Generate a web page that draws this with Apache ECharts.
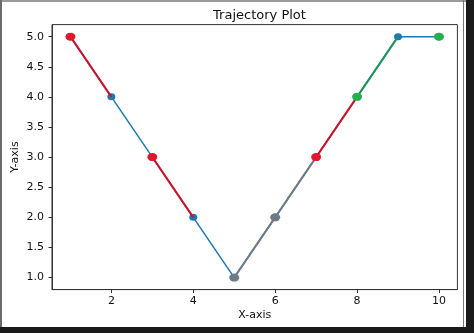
<!DOCTYPE html>
<html>
<head>
<meta charset="utf-8">
<script src="https://cdn.jsdelivr.net/npm/echarts@6/dist/echarts.min.js"></script>
<style>
  html, body { margin: 0; padding: 0; background: #fff; }
  #chart { width: 474px; height: 333px; position: absolute; left: 0; top: 0; }
  .fr { position: absolute; pointer-events: none; }
</style>
</head>
<body>
<div id="chart"></div>
<div class="fr" style="left:0;top:0;width:474px;height:2px;background:#9a9a9a"></div>
<div class="fr" style="left:0;top:0;width:2px;height:333px;background:#6a6a6a"></div>
<div class="fr" style="left:463px;top:0;width:1px;height:333px;background:#777"></div>
<div class="fr" style="left:466px;top:0;width:8px;height:333px;background:#1a1a1a"></div>
<div class="fr" style="left:0;top:327px;width:474px;height:6px;background:#1a1a1a"></div>
<script>
// Data
const xValues = [1, 2, 3, 4, 5, 6, 7, 8, 9, 10];
const yValues = [5, 4, 3, 2, 1, 2, 3, 4, 5, 5];
// highlight state of each point (colours the marker and the segment that starts there)
const pointStates = ['red', null, 'red', null, 'grey', 'grey', 'red', 'green', null, 'green'];
const xTicks = [2, 4, 6, 8, 10];
const yTicks = [1.0, 1.5, 2.0, 2.5, 3.0, 3.5, 4.0, 4.5, 5.0];

const palette = {
  base: '#1f77b4',
  red: '#e0182d', redLine: '#c8142c',
  grey: '#6e7a84', greyLine: '#6e7a84',
  green: '#22b14c', greenLine: '#1e9259'
};

const series = [{
  type: 'line',
  data: xValues.map((x, i) => [x, yValues[i]]),
  symbol: 'circle',
  symbolSize: [8, 7],
  lineStyle: { color: palette.base, width: 1.5 },
  itemStyle: { color: palette.base },
  z: 2,
  animation: false
}];

pointStates.forEach((st, i) => {
  if (!st) return;
  const data = [{ value: [xValues[i], yValues[i]] }];
  if (i + 1 < xValues.length) {
    data.push({ value: [xValues[i + 1], yValues[i + 1]], symbol: 'none' });
  }
  series.push({
    type: 'line',
    data: data,
    symbol: 'circle',
    symbolSize: [10, 8],
    lineStyle: { color: palette[st + 'Line'], width: 2 },
    itemStyle: { color: palette[st] },
    z: 3,
    animation: false
  });
});

const chart = echarts.init(document.getElementById('chart'), null, { renderer: 'canvas' });
chart.setOption({
  animation: false,
  textStyle: { fontFamily: 'DejaVu Sans' },
  title: {
    text: 'Trajectory Plot',
    left: 254.5, top: 4, textAlign: 'center',
    textStyle: { fontFamily: 'DejaVu Sans', fontSize: 13, fontWeight: 'normal', color: '#111' }
  },
  grid: {
    left: 52, right: 16.6, top: 24.6, bottom: 43.4,
    containLabel: false, outerBoundsMode: 'none',
    show: true, borderColor: '#333', borderWidth: 1, backgroundColor: 'transparent'
  },
  xAxis: {
    type: 'value', min: 0.55, max: 10.45,
    name: 'X-axis', nameLocation: 'middle', nameGap: 20, nameMoveOverlap: false,
    nameTextStyle: { fontFamily: 'DejaVu Sans', fontSize: 11, color: '#111' },
    axisLine: { show: true, lineStyle: { color: '#333', width: 1 } },
    axisTick: { show: true, length: 3.5, customValues: xTicks, lineStyle: { color: '#333' } },
    axisLabel: { customValues: xTicks, margin: 6, fontSize: 11, color: '#111', fontFamily: 'DejaVu Sans',
      formatter: v => String(v) },
    splitLine: { show: false }
  },
  yAxis: {
    type: 'value', min: 0.8, max: 5.2,
    name: 'Y-axis', nameLocation: 'middle', nameGap: 31, nameMoveOverlap: false,
    nameTextStyle: { fontFamily: 'DejaVu Sans', fontSize: 11, color: '#111' },
    axisLine: { show: true, lineStyle: { color: '#333', width: 1 } },
    axisTick: { show: true, length: 3.5, customValues: yTicks, lineStyle: { color: '#333' } },
    axisLabel: { customValues: yTicks, margin: 8, fontSize: 11, color: '#111', fontFamily: 'DejaVu Sans',
      formatter: v => v.toFixed(1) },
    splitLine: { show: false }
  },
  series: series
});
</script>
</body>
</html>
